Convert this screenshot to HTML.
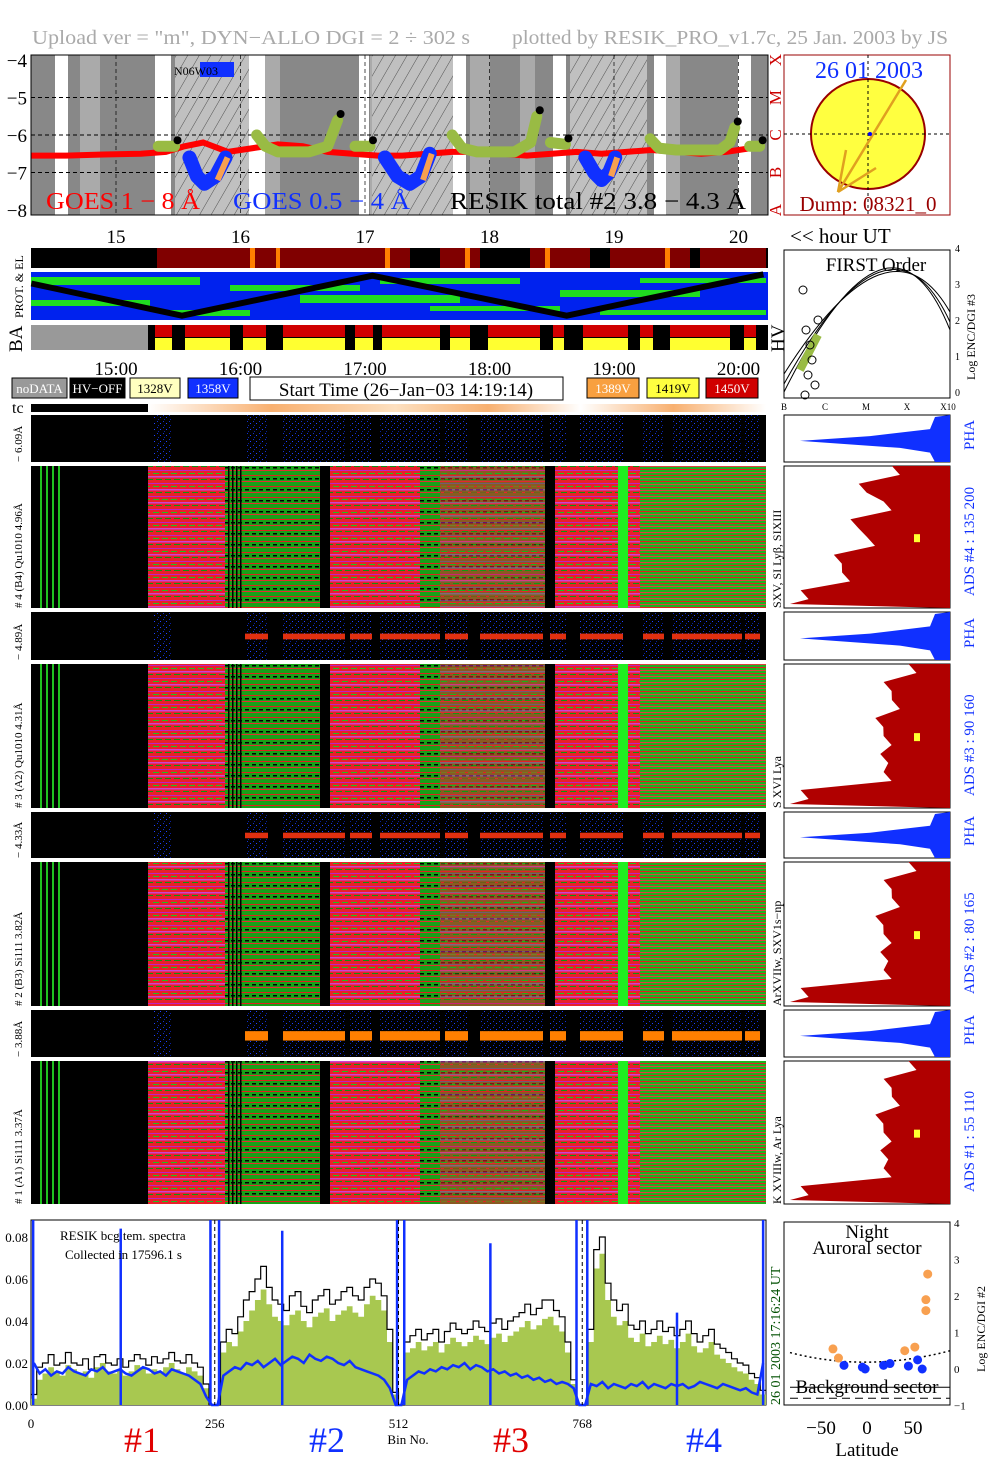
<!DOCTYPE html>
<html><head><meta charset="utf-8"><style>
body{margin:0;background:#fff;width:1004px;height:1477px;overflow:hidden;font-family:"Liberation Serif",serif}
svg{position:absolute;left:0;top:0}
text{font-family:"Liberation Serif",serif}
</style></head><body>
<svg id="s" width="1004" height="1477" xmlns="http://www.w3.org/2000/svg">
<defs>
<pattern id="hatch" width="10" height="10" patternUnits="userSpaceOnUse" patternTransform="rotate(30)"><rect width="10" height="10" fill="#c0c0c0"/><line x1="0" y1="0" x2="0" y2="10" stroke="#333" stroke-width="0.8"/></pattern>
<pattern id="specR" width="9" height="13" patternUnits="userSpaceOnUse"><rect width="9" height="13" fill="#e8202a"/><rect y="2" width="9" height="1" fill="#c020c0"/><rect y="5" width="6" height="1" fill="#20c020"/><rect y="8" width="9" height="1.5" fill="#d040d0"/><rect x="3" y="11" width="6" height="1" fill="#109010"/></pattern>
<pattern id="specG" width="7" height="11" patternUnits="userSpaceOnUse"><rect width="7" height="11" fill="#18a018"/><rect y="2" width="7" height="1" fill="#e02020"/><rect y="5" width="4" height="1.5" fill="#000"/><rect y="8" width="7" height="1" fill="#e03030"/></pattern>
<pattern id="specS" width="40" height="6" patternUnits="userSpaceOnUse"><rect width="40" height="6" fill="#20b020"/><rect y="1" width="40" height="1" fill="#e02020"/><rect y="4" width="40" height="1" fill="#e04040"/></pattern>
<pattern id="phaN" width="6" height="6" patternUnits="userSpaceOnUse"><rect width="6" height="6" fill="#000"/><rect x="1" y="1" width="1" height="1" fill="#1030d0"/><rect x="4" y="3" width="1" height="1" fill="#2040ff"/><rect x="2" y="5" width="1" height="1" fill="#0820a0"/></pattern>
</defs>
<text x="32" y="44" font-size="20" fill="#aaa" textLength="438" lengthAdjust="spacingAndGlyphs">Upload ver = "m", DYN−ALLO DGI =   2 ÷ 302 s</text>
<text x="512" y="44" font-size="20" fill="#aaa" textLength="436" lengthAdjust="spacingAndGlyphs">plotted by RESIK_PRO_v1.7c, 25 Jan. 2003 by JS</text>
<g id="goes"></g>
<g id="sun"></g>
<g id="mid"></g>
<g id="spec"></g>
<g id="bot"></g>
<g id="lat"></g>
</svg>
<script>
// ---- data ----
const hourTicks=[15,16,17,18,19,20];
const goesYTicks=[-4,-5,-6,-7,-8];
const goesTimes=[14.32,14.6,14.9,15.2,15.4,15.55,15.7,15.9,16.1,16.3,16.5,16.7,16.9,17.1,17.3,17.5,17.7,17.9,18.1,18.3,18.5,18.7,18.9,19.1,19.3,19.5,19.7,19.9,20.1,20.18];
const goes18=[-6.55,-6.55,-6.52,-6.5,-6.45,-6.3,-6.2,-6.45,-6.35,-6.25,-6.3,-6.45,-6.5,-6.55,-6.55,-6.5,-6.45,-6.45,-6.5,-6.55,-6.5,-6.45,-6.5,-6.45,-6.4,-6.45,-6.5,-6.45,-6.35,-6.35];
const resikSegT=[[15.34,15.47],[16.13,16.2,16.3,16.55,16.7,16.78],[16.92,17.04],[17.7,17.78,17.9,18.2,18.33,18.38],[18.49,18.61],[19.29,19.36,19.5,19.85,19.93,19.97],[20.09,20.17]];
const resikSegV=[[-6.3,-6.3],[-6.0,-6.3,-6.45,-6.45,-6.3,-5.6],[-6.3,-6.3],[-6.0,-6.35,-6.45,-6.45,-6.2,-5.5],[-6.2,-6.25],[-6.1,-6.35,-6.4,-6.4,-6.2,-5.8],[-6.3,-6.3]];
const goes054T=[[15.59,15.65,15.71,15.8,15.88],[17.16,17.26,17.36,17.45,17.52],[18.77,18.84,18.9,18.96,19.01]];
const goes054V=[[-6.6,-7.1,-7.3,-7.1,-6.6],[-6.6,-7.1,-7.3,-7.1,-6.5],[-6.6,-7.0,-7.2,-7.0,-6.6]];
const zigT=[14.32,15.53,17.06,18.62,20.2];
const zigV=[0.25,0.95,0.08,0.95,0.05];
const binTicks=[0,256,512,768];
const specYTicks=[0,0.02,0.04,0.06,0.08];
const specYLabels=["0.00","0.02","0.04","0.06","0.08"];
const green=[0.003,0.012,0.015,0.018,0.016,0.014,0.019,0.017,0.015,0.016,0.013,0.018,0.02,0.016,0.015,0.017,0.014,0.016,0.019,0.018,0.015,0.017,0.016,0.018,0.02,0.017,0.015,0.018,0.016,0.014,0.008,0.0,
0.0,0.025,0.03,0.028,0.035,0.04,0.045,0.05,0.055,0.048,0.042,0.04,0.038,0.043,0.045,0.04,0.037,0.042,0.044,0.046,0.04,0.043,0.045,0.047,0.044,0.042,0.048,0.052,0.05,0.045,0.03,0.005,
0.0,0.025,0.027,0.03,0.026,0.028,0.03,0.025,0.029,0.032,0.03,0.028,0.03,0.033,0.031,0.029,0.032,0.034,0.03,0.033,0.035,0.037,0.04,0.036,0.038,0.041,0.042,0.038,0.035,0.025,0.01,0.0,
0.0,0.03,0.065,0.072,0.05,0.042,0.038,0.04,0.032,0.03,0.034,0.028,0.03,0.033,0.029,0.031,0.027,0.03,0.034,0.028,0.025,0.027,0.03,0.024,0.022,0.02,0.018,0.016,0.015,0.012,0.01,0.005];
const black=[0.005,0.018,0.02,0.024,0.019,0.02,0.025,0.02,0.019,0.022,0.017,0.023,0.024,0.02,0.019,0.022,0.018,0.021,0.024,0.022,0.019,0.023,0.02,0.022,0.025,0.021,0.02,0.024,0.02,0.018,0.01,0.0,
0.0,0.03,0.036,0.034,0.042,0.05,0.054,0.06,0.066,0.056,0.05,0.048,0.045,0.052,0.054,0.047,0.044,0.05,0.052,0.055,0.048,0.05,0.054,0.056,0.052,0.05,0.056,0.06,0.058,0.052,0.036,0.006,
0.0,0.03,0.033,0.036,0.031,0.034,0.036,0.03,0.035,0.039,0.036,0.034,0.036,0.04,0.037,0.035,0.039,0.041,0.036,0.04,0.042,0.044,0.048,0.043,0.046,0.05,0.05,0.045,0.042,0.03,0.012,0.0,
0.0,0.036,0.074,0.08,0.058,0.05,0.045,0.048,0.038,0.036,0.04,0.034,0.036,0.04,0.035,0.037,0.033,0.036,0.04,0.034,0.03,0.033,0.036,0.029,0.027,0.025,0.022,0.02,0.019,0.015,0.013,0.007];
const blue=[0.02,0.015,0.017,0.014,0.016,0.015,0.018,0.016,0.015,0.014,0.017,0.016,0.018,0.015,0.016,0.017,0.015,0.014,0.016,0.018,0.017,0.015,0.016,0.014,0.017,0.016,0.015,0.014,0.012,0.01,0.004,0.0,
0.0,0.014,0.016,0.018,0.017,0.02,0.019,0.021,0.018,0.02,0.022,0.019,0.021,0.023,0.022,0.02,0.024,0.022,0.021,0.023,0.022,0.02,0.019,0.021,0.018,0.017,0.016,0.015,0.014,0.012,0.008,0.0,
0.0,0.012,0.014,0.016,0.015,0.017,0.016,0.018,0.017,0.019,0.018,0.02,0.017,0.019,0.018,0.016,0.017,0.015,0.016,0.014,0.015,0.013,0.014,0.012,0.013,0.011,0.012,0.01,0.011,0.01,0.008,0.0,
0.0,0.01,0.009,0.011,0.008,0.01,0.009,0.008,0.01,0.009,0.011,0.008,0.01,0.009,0.008,0.01,0.009,0.01,0.008,0.009,0.011,0.01,0.009,0.008,0.01,0.009,0.008,0.007,0.008,0.006,0.005,0.02];
const spikeBins=[3,125,250,262,350,510,520,640,760,775,900,1020];
const spikeVals=[0.09,0.084,0.09,0.09,0.083,0.09,0.09,0.077,0.09,0.09,0.044,0.09];
const latTicks=[-50,0,50];
const encTicks=[-1,0,1,2,3,4];
const auroralLat=[-37,-31,41,52,64,64,66];
const auroralEnc=[0.55,0.3,0.5,0.6,1.9,1.6,2.6];
const bgLat=[-25,-5,-2,18,25,45,55,60];
const bgEnc=[0.1,0.05,0.0,0.1,0.15,0.08,0.25,0.0];

// ---- helpers ----
const NS="http://www.w3.org/2000/svg";
function mk(p,tag,at,txt){const e=document.createElementNS(NS,tag);for(const k in at)e.setAttribute(k,at[k]);if(txt!==undefined)e.textContent=txt;p.appendChild(e);return e;}
const tx=t=>116+124.5*(t-15);
const gy=v=>60+(-4-v)*37.5;
const G=id=>document.getElementById(id);

// ---- GOES panel ----
(function(){const g=G('goes');
mk(g,'rect',{x:31,y:55,width:737,height:160,fill:'#888'});
const white=[[55,68],[155,171],[249,265],[359,369],[453,466],[553,566],[654,666],[738,751]];
const lgray=[[80,100],[265,280],[370,380],[470,490],[520,535],[665,680]];
lgray.forEach(b=>mk(g,'rect',{x:b[0],y:55,width:b[1]-b[0],height:160,fill:'#aaa'}));
const hat=[[175,249],[372,453],[570,647]];
hat.forEach(b=>{const r=mk(g,'rect',{x:b[0],y:55,width:b[1]-b[0],height:160,fill:'url(#hatch)'});});
white.forEach(b=>{const r=mk(g,'rect',{x:b[0],y:55,width:b[1]-b[0],height:160,fill:'#fff'});});
[-5,-6,-7].forEach(v=>mk(g,'line',{x1:31,x2:768,y1:gy(v),y2:gy(v),stroke:'#000','stroke-dasharray':'4,3','stroke-width':1}));
hourTicks.forEach(h=>mk(g,'line',{x1:tx(h),x2:tx(h),y1:55,y2:215,stroke:'#000','stroke-dasharray':'4,3','stroke-width':0.7}));
let d=goesTimes.map((t,i)=>(i?'L':'M')+tx(t)+','+gy(goes18[i])).join('');
const rl=mk(g,'path',{d:d,fill:'none',stroke:'#f00','stroke-width':6});
goes054T.forEach((s,j)=>{const p=mk(g,'path',{d:s.map((t,i)=>(i?'L':'M')+tx(t)+','+gy(goes054V[j][i])).join(''),fill:'none',stroke:'#1030ff','stroke-width':14,'stroke-linejoin':'round','stroke-linecap':'round'});
 const n=s.length-1;
 const o=mk(g,'path',{d:'M'+(tx(s[n])+2)+','+gy(goes054V[j][n])+'L'+(tx(s[n-1])+2)+','+gy(goes054V[j][n-1]-0.1),stroke:'#f8a050','stroke-width':6,fill:'none'});});
resikSegT.forEach((s,j)=>{const p=mk(g,'path',{d:s.map((t,i)=>(i?'L':'M')+tx(t)+','+gy(resikSegV[j][i])).join(''),fill:'none',stroke:'#99bb44','stroke-width':11,'stroke-linejoin':'round','stroke-linecap':'round'});
 const b=mk(g,'circle',{cx:tx(s[s.length-1])+3,cy:gy(resikSegV[j][s.length-1])-6,r:4,fill:'#000'});});
mk(g,'rect',{x:31,y:55,width:737,height:160,fill:'none',stroke:'#000'});
goesYTicks.forEach(v=>{const t=mk(g,'text',{x:27,y:gy(v)+7,'font-size':19,'text-anchor':'end'},'−'+(-v));});
['A','B','C','M','X'].forEach((c,i)=>{const t=mk(g,'text',{x:0,y:0,'font-size':17,fill:'#c00','text-anchor':'middle',transform:'translate(781,'+gy(-8+i)+') rotate(-90)'},c);});
const lab=[[46,'GOES 1 − 8 Å','#f00',154],[233,'GOES 0.5 − 4 Å','#1030ff',177],[450,'RESIK total #2  3.8 − 4.3 Å','#000',296]];
lab.forEach(l=>{const t=mk(g,'text',{x:l[0],y:209,'font-size':24,fill:l[2],textLength:l[3],lengthAdjust:'spacingAndGlyphs'},l[1]);});
mk(g,'rect',{x:200,y:62,width:34,height:15,fill:'#1030ff'});mk(g,'text',{x:174,y:75,'font-size':12},'N06W03');
hourTicks.forEach(h=>{const t=mk(g,'text',{x:tx(h),y:243,'font-size':19,'text-anchor':'middle'},h);});
mk(g,'text',{x:790,y:243,'font-size':21},'<< hour UT');
})();

// ---- Sun ----
(function(){const g=G('sun');
mk(g,'rect',{x:784,y:55,width:166,height:160,fill:'#fff',stroke:'#900'});
const c=mk(g,'ellipse',{cx:868,cy:134,rx:57,ry:55,fill:'#ffff40',stroke:'#900','stroke-width':2});
mk(g,'line',{x1:784,x2:950,y1:134,y2:134,stroke:'#000','stroke-dasharray':'3,3'});mk(g,'line',{x1:868,x2:868,y1:55,y2:215,stroke:'#000','stroke-dasharray':'3,3'});
mk(g,'path',{d:'M906,80 L838,192 L846,150 M838,192 L876,168',stroke:'#e0a020','stroke-width':2.5,fill:'none'});
mk(g,'circle',{cx:870,cy:134,r:2,fill:'#00f'});
mk(g,'text',{x:869,y:78,'font-size':24,fill:'#1030ff','text-anchor':'middle'},'26 01 2003');
mk(g,'text',{x:868,y:211,'font-size':21,fill:'#900','text-anchor':'middle'},'Dump: 08321_0');
})();

// ---- middle housekeeping ----
(function(){const g=G('mid');
mk(g,'rect',{x:31,y:248,width:737,height:20,fill:'#000'});
[[157,410],[440,480],[530,590],[610,690],[700,766]].forEach(b=>mk(g,'rect',{x:b[0],y:248,width:b[1]-b[0],height:20,fill:'#800000'}));
[[250,255],[276,280],[385,390],[465,470],[545,550],[665,670]].forEach(b=>mk(g,'rect',{x:b[0],y:248,width:b[1]-b[0],height:20,fill:'#ff8000'}));
mk(g,'rect',{x:31,y:272,width:737,height:48,fill:'#0022ee'});
[[31,200,277,8],[31,150,300,6],[230,360,285,6],[300,460,295,8],[380,520,278,6],[430,560,306,5],[560,700,290,7],[600,766,310,5],[170,250,310,6],[640,766,278,5]].forEach(b=>mk(g,'rect',{x:b[0],y:b[2],width:b[1]-b[0],height:b[3],fill:'#20dd20'}));
const py=v=>272+v*46;
const z=mk(g,'path',{d:zigT.map((t,i)=>(i?'L':'M')+tx(t)+','+py(zigV[i])).join(''),stroke:'#000','stroke-width':6,fill:'none'});
mk(g,'text',{x:0,y:0,'font-size':12,transform:'translate(23,318) rotate(-90)'},'PROT. & EL');
mk(g,'rect',{x:31,y:325,width:737,height:25,fill:'#000'});
mk(g,'rect',{x:31,y:325,width:117,height:25,fill:'#999'});
[[155,172],[185,230],[243,266],[283,345],[355,373],[382,440],[450,470],[488,540],[553,564],[583,628],[640,653],[670,730],[744,756]].forEach(b=>{mk(g,'rect',{x:b[0],y:325,width:b[1]-b[0],height:12,fill:'#d00000'});mk(g,'rect',{x:b[0],y:338,width:b[1]-b[0],height:12,fill:'#ffff30'});});
mk(g,'text',{x:0,y:0,'font-size':19,transform:'translate(22,352) rotate(-90)'},'BA');
mk(g,'text',{x:0,y:0,'font-size':19,transform:'translate(784,352) rotate(-90)'},'HV');
hourTicks.forEach(h=>{const t=mk(g,'text',{x:tx(h),y:375,'font-size':19,'text-anchor':'middle'},h+':00');});
const leg=[[12,55,'#999','#fff','noDATA'],[70,55,'#000','#fff','HV−OFF'],[130,50,'#ffffc0','#000','1328V'],[188,50,'#1030ff','#fff','1358V'],[587,52,'#f8a040','#fff','1389V'],[647,52,'#ffff40','#000','1419V'],[706,52,'#d00000','#fff','1450V']];
leg.forEach(l=>{const r=mk(g,'rect',{x:l[0],y:378,width:l[1],height:20,fill:l[2],stroke:'#000'});mk(g,'text',{x:l[0]+l[1]/2,y:393,'font-size':13,fill:l[3],'text-anchor':'middle'},l[4]);});
mk(g,'rect',{x:250,y:377,width:313,height:23,fill:'#fff',stroke:'#000'});
mk(g,'text',{x:406,y:396,'font-size':19,'text-anchor':'middle'},'Start Time (26−Jan−03 14:19:14)');
mk(g,'text',{x:12,y:413,'font-size':16},'tc');
mk(g,'rect',{x:31,y:404,width:117,height:8,fill:'#000'});
const lg=mk(document.querySelector('defs'),'linearGradient',{id:'tcg'});
[[0,'#fff'],[0.2,'#f8b070'],[0.4,'#fde0c0'],[0.55,'#f8b070'],[0.7,'#fff'],[0.85,'#f8b070'],[1,'#fff']].forEach(s=>mk(lg,'stop',{offset:s[0],'stop-color':s[1]}));
mk(g,'rect',{x:148,y:404,width:618,height:8,fill:'url(#tcg)'});
mk(g,'rect',{x:784,y:250,width:166,height:148,fill:'#fff',stroke:'#000'});
mk(g,'text',{x:876,y:271,'font-size':19,'text-anchor':'middle'},'FIRST Order');
[0,8,18].forEach(o=>mk(g,'path',{d:`M784,${392-o} Q890,${180+o*1.5} 950,${330-o}`,fill:'none',stroke:'#000','stroke-width':1}));
mk(g,'path',{d:'M800,370 L818,335',stroke:'#99bb44','stroke-width':8});
[[803,290],[806,330],[810,345],[812,360],[808,375],[815,385],[805,395],[818,320]].forEach(p=>mk(g,'circle',{cx:p[0],cy:p[1],r:4,fill:'none',stroke:'#000'}));
['B','C','M','X','X10'].forEach((c,i)=>mk(g,'text',{x:784+i*41,y:410,'font-size':9,'text-anchor':'middle'},c));
['0','1','2','3','4'].forEach((c,i)=>mk(g,'text',{x:955,y:396-i*36,'font-size':10},c));
mk(g,'text',{x:0,y:0,'font-size':12,transform:'translate(975,380) rotate(-90)'},'Log ENC/DGI #3');
})();

// ---- spectrogram panels ----
(function(){const g=G('spec');
const phaY=[[415,47],[612,48],[812,46],[1010,47]];
const adsY=[[466,142],[664,144],[862,144],[1061,143]];
const blocks=[[148,225,'R'],[225,250,'G'],[250,320,'G'],[320,330,'K'],[330,420,'R'],[420,440,'G'],[440,545,'M'],[545,555,'K'],[555,618,'R'],[618,628,'L'],[628,640,'R'],[640,766,'S']];
const phaOn=[[153,172],[245,268],[283,345],[350,372],[380,440],[445,468],[480,543],[550,566],[580,623],[643,664],[672,742],[745,760]];
const adsLab=['# 4 (B4) Qu1010 4.96Å','# 3 (A2) Qu1010 4.31Å','# 2 (B3) Si111 3.82Å','# 1 (A1) Si111 3.37Å'];
const phaLab=['− 6.09Å','− 4.89Å','− 4.33Å','− 3.88Å'];
const lineLab=['SXV, SI Lyβ, SIXIII','S XVI Lya','ArXVIIw, SXV1s−np','K XVIIIw, Ar Lya'];
const adsR=['135 200','90 160','80 165','55 110'];
for(let k=0;k<4;k++){
 const [py,ph]=phaY[k],[ay,ah]=adsY[k];
 mk(g,'rect',{x:31,y:py,width:735,height:ph,fill:'#000'});
 phaOn.forEach(b=>{mk(g,'rect',{x:b[0],y:py,width:b[1]-b[0],height:ph,fill:'url(#phaN)'});if(k>0&&b[0]>240)mk(g,'rect',{x:b[0],y:py+ph*0.45,width:b[1]-b[0],height:ph*(k==3?0.2:0.12),fill:k==3?'#ff8000':'#e03010'});});
 const a=mk(g,'rect',{x:31,y:ay,width:735,height:ah,fill:'#000'});
 [40,46,52,58].forEach(x=>mk(g,'rect',{x:x,y:ay,width:2,height:ah,fill:'#20c020'}));
 blocks.forEach(b=>{const f={R:'url(#specR)',G:'url(#specG)',M:'url(#specR)',K:'#000',L:'#20ee20',S:'url(#specS)'}[b[2]];mk(g,'rect',{x:b[0],y:ay,width:b[1]-b[0],height:ah,fill:f});if(b[2]==='M')mk(g,'rect',{x:b[0],y:ay,width:b[1]-b[0],height:ah,fill:'url(#specG)',opacity:0.45});});
 [228,232,236,240].forEach(x=>mk(g,'rect',{x:x,y:ay,width:1.5,height:ah,fill:'#000'}));
 mk(g,'text',{x:0,y:0,'font-size':11,transform:`translate(22,${py+ph}) rotate(-90)`},phaLab[k]);
 mk(g,'text',{x:0,y:0,'font-size':11,transform:`translate(22,${ay+ah}) rotate(-90)`},adsLab[k]);
 mk(g,'text',{x:0,y:0,'font-size':12,transform:`translate(781,${ay+ah}) rotate(-90)`},lineLab[k]);
 mk(g,'rect',{x:784,y:py,width:166,height:ph,fill:'#fff',stroke:'#000'});
 mk(g,'path',{d:`M950,${py} L935,${py+2} L930,${py+ph*0.3} L870,${py+ph*0.45} L800,${py+ph*0.55} L900,${py+ph*0.7} L930,${py+ph*0.8} L935,${py+ph} L950,${py+ph}Z`,fill:'#1030ff'});
 mk(g,'rect',{x:784,y:ay,width:166,height:ah,fill:'#fff',stroke:'#000'});
 const w=k==0?[0.35,0.55,0.4,0.6,0.5,0.7,0.65,0.9]:[0.25,0.4,0.35,0.45,0.4,0.42,0.4,0.9];
 let d=`M950,${ay}`;w.forEach((v,i)=>{d+=` L${950-166*v},${ay+ah*i/8} L${950-166*v+8},${ay+ah*(i+0.5)/8}`;});d+=` L790,${ay+ah-4} L950,${ay+ah}Z`;
 mk(g,'path',{d:d,fill:'#b00000'});
 mk(g,'rect',{x:914,y:ay+ah*0.48,width:6,height:8,fill:'#ffff30'});
 mk(g,'text',{x:0,y:0,'font-size':15,fill:'#1030ff',transform:`translate(974,${py+ph-12}) rotate(-90)`},'PHA');
 mk(g,'text',{x:0,y:0,'font-size':15,fill:'#1030ff',transform:`translate(974,${ay+ah-12}) rotate(-90)`},'ADS #'+(4-k)+' :    '+adsR[k]);
}})();

// ---- bottom spectrum ----
(function(){const g=G('bot');
const X0=31,X1=766,Y0=1405,YT=1220;
const bx=b=>X0+(X1-X0)*b/1024, by=v=>Y0-v*2100;
mk(g,'rect',{x:X0,y:YT,width:X1-X0,height:Y0-YT,fill:'#fff',stroke:'#000'});
const step=8;
let d='M'+bx(0)+','+Y0;green.forEach((v,i)=>{d+=' L'+bx(i*step)+','+by(v)+' L'+bx((i+1)*step)+','+by(v);});d+=' L'+bx(1024)+','+Y0+'Z';
const gf=mk(g,'path',{d:d,fill:'#a8c850'});
let db='';black.forEach((v,i)=>{db+=(i?' L':'M')+bx(i*step)+','+by(v)+' L'+bx((i+1)*step)+','+by(v);});
const bl=mk(g,'path',{d:db,fill:'none',stroke:'#000','stroke-width':1.2});
let du='';blue.forEach((v,i)=>{du+=(i?' L':'M')+bx(i*step+4)+','+by(v);});
const bu=mk(g,'path',{d:du,fill:'none',stroke:'#1030ff','stroke-width':2.5});
spikeBins.forEach((b,i)=>{const l=mk(g,'line',{x1:bx(b),x2:bx(b),y1:Y0,y2:Math.max(YT,by(spikeVals[i])),stroke:'#1030ff','stroke-width':2.5});});
[256,512,768].forEach(b=>mk(g,'line',{x1:bx(b),x2:bx(b),y1:YT,y2:Y0,stroke:'#000','stroke-dasharray':'4,3'}));
specYTicks.forEach((v,i)=>{const t=mk(g,'text',{x:28,y:by(v)+5,'font-size':13,'text-anchor':'end'},specYLabels[i]);});
binTicks.forEach(b=>{const t=mk(g,'text',{x:bx(b),y:1428,'font-size':13,'text-anchor':'middle'},b);});
mk(g,'text',{x:408,y:1444,'font-size':13,'text-anchor':'middle'},'Bin No.');
[['#1',142,'#e00000'],['#2',327,'#1030ff'],['#3',511,'#e00000'],['#4',704,'#1030ff']].forEach(l=>mk(g,'text',{x:l[1],y:1452,'font-size':36,fill:l[2],'text-anchor':'middle'},l[0]));
mk(g,'text',{x:60,y:1240,'font-size':13},'RESIK bcg tem. spectra');
mk(g,'text',{x:65,y:1259,'font-size':13},'Collected in 17596.1 s');
mk(g,'text',{x:0,y:0,'font-size':14,fill:'#005000',transform:'translate(780,1405) rotate(-90)'},'26 01 2003     17:16:24 UT');
})();

// ---- latitude panel ----
(function(){const g=G('lat');
const X0=784,X1=950,Y0=1405,YT=1222;
const lx=v=>867+v*0.92, ly=v=>1369-v*36.5;
mk(g,'rect',{x:X0,y:YT,width:X1-X0,height:Y0-YT,fill:'#fff',stroke:'#000'});
mk(g,'path',{d:`M790,${ly(0.45)} Q867,${ly(-0.1)} 950,${ly(0.5)}`,fill:'none',stroke:'#000','stroke-dasharray':'2,3','stroke-width':1.5});
mk(g,'line',{x1:790,x2:950,y1:ly(-0.8),y2:ly(-0.8),stroke:'#000','stroke-dasharray':'8,5'});
mk(g,'line',{x1:790,x2:950,y1:ly(-0.5),y2:ly(-0.5),stroke:'#000'});
auroralLat.forEach((v,i)=>{const c=mk(g,'circle',{cx:lx(v),cy:ly(auroralEnc[i]),r:4.5,fill:'#f8a050'});});
bgLat.forEach((v,i)=>{const c=mk(g,'circle',{cx:lx(v),cy:ly(bgEnc[i]),r:4.5,fill:'#1030ff'});});
encTicks.forEach(v=>{const t=mk(g,'text',{x:954,y:ly(v)+4,'font-size':11},v<0?'−'+(-v):v);});
latTicks.forEach(v=>{const t=mk(g,'text',{x:lx(v),y:1434,'font-size':19,'text-anchor':'middle'},v<0?'−'+(-v):v);});
mk(g,'text',{x:867,y:1456,'font-size':19,'text-anchor':'middle'},'Latitude');
mk(g,'text',{x:867,y:1238,'font-size':19,'text-anchor':'middle'},'Night');
mk(g,'text',{x:867,y:1254,'font-size':19,'text-anchor':'middle'},'Auroral sector');
mk(g,'text',{x:867,y:1393,'font-size':19,'text-anchor':'middle'},'Background sector');
mk(g,'text',{x:0,y:0,'font-size':12,transform:'translate(985,1372) rotate(-90)'},'Log ENC/DGI #2');
})();
</script>
</body></html>
